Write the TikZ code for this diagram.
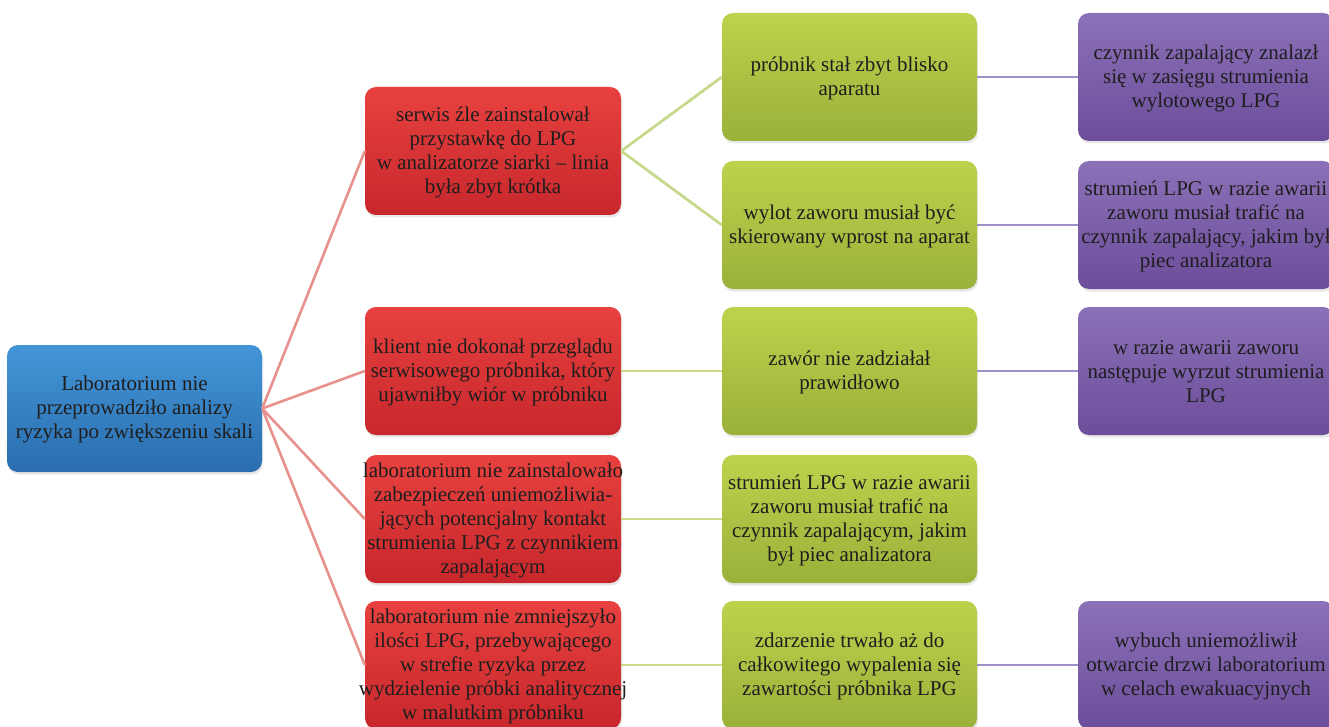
\documentclass[tikz,border=0pt]{standalone}
\usepackage{fontspec}
\setmainfont{Liberation Serif}
\usetikzlibrary{shadows}
\definecolor{cBlueTop}{HTML}{4396D8}
\definecolor{cBlueBot}{HTML}{2A6DAE}
\definecolor{cRedTop}{HTML}{E8413F}
\definecolor{cRedBot}{HTML}{C7272C}
\definecolor{cGreenTop}{HTML}{BED24C}
\definecolor{cGreenBot}{HTML}{9AB13A}
\definecolor{cPurpTop}{HTML}{8B71B8}
\definecolor{cPurpBot}{HTML}{6C4D9A}
\definecolor{cText}{HTML}{1E1E1E}
\definecolor{cRedEdge}{HTML}{E8928E}
\definecolor{cGreenEdge}{HTML}{C6D98C}
\definecolor{cPurpEdge}{HTML}{A08ECB}
\begin{document}
\begin{tikzpicture}[x=1pt,y=-1pt,
  box/.style={rounded corners=11pt, minimum width=256pt, minimum height=128pt,
    inner sep=0pt, draw=none,
    drop shadow={opacity=0.18, shadow xshift=1pt, shadow yshift=-2.5pt}},
  bluebox/.style={box, minimum width=255pt, minimum height=127pt, top color=cBlueTop, bottom color=cBlueBot},
  redbox/.style={box, top color=cRedTop, bottom color=cRedBot},
  greenbox/.style={box, minimum width=255pt, top color=cGreenTop, bottom color=cGreenBot},
  purpbox/.style={box, top color=cPurpTop, bottom color=cPurpBot},
  txt/.style={align=center, text=cText, inner sep=0pt, yshift=-1pt,
    font=\fontsize{21}{24}\selectfont},
  rededge/.style={draw=cRedEdge, line width=2.6pt},
  greenedge/.style={draw=cGreenEdge, line width=2.8pt},
  purpedge/.style={draw=cPurpEdge, line width=2.8pt}]
\useasboundingbox (0,0) rectangle (1329,727);
\clip (0,0) rectangle (1329,727);
\fill[white] (0,0) rectangle (1329,727);

% boxes
\node[bluebox] (root) at (134.5,408.5) {};
\node[redbox] (r1) at (493,151) {};
\node[redbox] (r2) at (493,371) {};
\node[redbox] (r3) at (493,519) {};
\node[redbox] (r4) at (493,665) {};
\node[greenbox] (g1) at (849.5,77) {};
\node[greenbox] (g2) at (849.5,225) {};
\node[greenbox] (g3) at (849.5,371) {};
\node[greenbox] (g4) at (849.5,519) {};
\node[greenbox] (g5) at (849.5,665) {};
\node[purpbox] (p1) at (1206,77) {};
\node[purpbox] (p2) at (1206,225) {};
\node[purpbox] (p3) at (1206,371) {};
\node[purpbox] (p5) at (1206,665) {};

% connectors
\draw[rededge] (root.east) -- (r1.west);
\draw[rededge] (root.east) -- (r2.west);
\draw[rededge] (root.east) -- (r3.west);
\draw[rededge] (root.east) -- (r4.west);
\draw[greenedge] (r1.east) -- (g1.west);
\draw[greenedge] (r1.east) -- (g2.west);
\draw[greenedge] (r2.east) -- (g3.west);
\draw[greenedge] (r3.east) -- (g4.west);
\draw[greenedge] (r4.east) -- (g5.west);
\draw[purpedge] (g1.east) -- (p1.west);
\draw[purpedge] (g2.east) -- (p2.west);
\draw[purpedge] (g3.east) -- (p3.west);
\draw[purpedge] (g5.east) -- (p5.west);

% texts
\node[txt] (roott) at (root) {Laboratorium nie\\przeprowadziło analizy\\ryzyka po zwiększeniu skali};
\node[txt] (r1t) at (r1) {serwis źle zainstalował\\przystawkę do LPG\\w analizatorze siarki – linia\\była zbyt krótka};
\node[txt] (r2t) at (r2) {klient nie dokonał przeglądu\\serwisowego próbnika, który\\ujawniłby wiór w próbniku};
\node[txt] (r3t) at (r3) {laboratorium nie zainstalowało\\zabezpieczeń uniemożliwia-\\jących potencjalny kontakt\\strumienia LPG z czynnikiem\\zapalającym};
\node[txt] (r4t) at (r4) {laboratorium nie zmniejszyło\\ilości LPG, przebywającego\\w strefie ryzyka przez\\wydzielenie próbki analitycznej\\w malutkim próbniku};
\node[txt] (g1t) at (g1) {próbnik stał zbyt blisko\\aparatu};
\node[txt] (g2t) at (g2) {wylot zaworu musiał być\\skierowany wprost na aparat};
\node[txt] (g3t) at (g3) {zawór nie zadziałał\\prawidłowo};
\node[txt] (g4t) at (g4) {strumień LPG w razie awarii\\zaworu musiał trafić na\\czynnik zapalającym, jakim\\był piec analizatora};
\node[txt] (g5t) at (g5) {zdarzenie trwało aż do\\całkowitego wypalenia się\\zawartości próbnika LPG};
\node[txt] (p1t) at (p1) {czynnik zapalający znalazł\\się w zasięgu strumienia\\wylotowego LPG};
\node[txt] (p2t) at (p2) {strumień LPG w razie awarii\\zaworu musiał trafić na\\czynnik zapalający, jakim był\\piec analizatora};
\node[txt] (p3t) at (p3) {w razie awarii zaworu\\następuje wyrzut strumienia\\LPG};
\node[txt] (p5t) at (p5) {wybuch uniemożliwił\\otwarcie drzwi laboratorium\\w celach ewakuacyjnych};
\end{tikzpicture}
\end{document}
